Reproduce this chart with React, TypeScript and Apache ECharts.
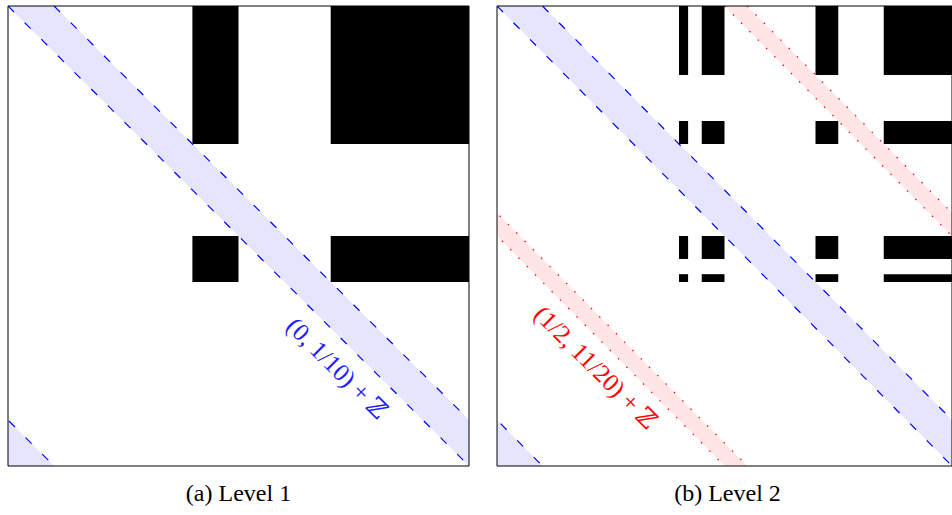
import React, { useEffect, useRef } from 'react';
import * as echarts from 'echarts';

// ---------- data ----------
const panelTitles = ['(a) Level 1', '(b) Level 2'];

// black set = product of x intervals and y intervals (y measured from the top)
const level1X = [[0.4, 0.5], [0.7, 1.0]];
const level1Y = [[0.0, 0.3], [0.5, 0.6]];
const level2X = [[0.4, 0.42], [0.45, 0.5], [0.7, 0.75], [0.85, 1.0]];
const level2Y = [[0.0, 0.15], [0.25, 0.3], [0.5, 0.55], [0.583, 0.6]];

// bands: { (x, y) : x - y in (a, b) + Z }
const bandsLevel1 = [[0, 0.1]];
const bandsLevel2 = [[0, 0.1], [0.5, 0.55]];
const bandLabels1 = ['(0, 1/10) + ℤ'];
const bandLabels2 = ['(0, 1/10) + ℤ', '(1/2, 11/20) + ℤ'];
// label anchors in unit coords (u, v), only shown where set
const labelAnchors1 = [[0.714, 0.787]];
const labelAnchors2 = [null, [0.217, 0.785]];

// ---------- styles / layout ----------
const BAND_STYLES = [
  { fill: '#e5e5fd', stroke: '#0000ff', dash: [8.5, 15], width: 1.2, text: '#2020ff' },
  { fill: '#ffe5e5', stroke: '#ff0000', dash: [1.5, 10.3], width: 1.2, text: '#ff0000' },
];
const GRID_TOP = 6;
const GRID_SIZE_W = 461;
const GRID_SIZE_H = 460;
const GRID_LEFTS = [8, 497];
const FONT = '"Liberation Serif", "DejaVu Serif", serif';

function cells(xs: number[][], ys: number[][]) {
  const out: number[][] = [];
  for (const x of xs) for (const y of ys) out.push([x[0], x[1], y[0], y[1]]);
  return out;
}

export default function App() {
  const ref = useRef<HTMLDivElement>(null);
  useEffect(() => {
    if (!ref.current) return;
    const chart = echarts.init(ref.current, null, { renderer: 'svg' });

    const panels = [
      { rects: cells(level1X, level1Y), bands: bandsLevel1, labels: bandLabels1, anchors: labelAnchors1 },
      { rects: cells(level2X, level2Y), bands: bandsLevel2, labels: bandLabels2, anchors: labelAnchors2 },
    ];

    const series: any[] = [];
    panels.forEach((p, gi) => {
      // bands
      series.push({
        type: 'custom',
        xAxisIndex: gi,
        yAxisIndex: gi,
        clip: true,
        silent: true,
        z: 1,
        data: p.bands.map((b, i) => [b[0], b[1], i]),
        renderItem: (params: any, api: any) => {
          const a = api.value(0);
          const b = api.value(1);
          const s = BAND_STYLES[api.value(2)];
          const children: any[] = [];
          for (const k of [-1, 0]) {
            const pts = [[a + k, 0], [b + k, 0], [b + k + 1, 1], [a + k + 1, 1]].map((q) => api.coord(q));
            children.push({ type: 'polygon', shape: { points: pts }, style: { fill: s.fill } });
          }
          for (const k of [-1, 0]) {
            for (const c of [a, b]) {
              const p0 = api.coord([c + k, 0]);
              const p1 = api.coord([c + k + 1, 1]);
              children.push({
                type: 'line',
                shape: { x1: p0[0], y1: p0[1], x2: p1[0], y2: p1[1] },
                style: { stroke: s.stroke, lineWidth: s.width, lineDash: s.dash, fill: null },
              });
            }
          }
          return { type: 'group', children };
        },
      });
      // black rectangles
      series.push({
        type: 'custom',
        xAxisIndex: gi,
        yAxisIndex: gi,
        clip: true,
        silent: true,
        z: 2,
        data: p.rects,
        renderItem: (params: any, api: any) => {
          const p0 = api.coord([api.value(0), api.value(2)]);
          const p1 = api.coord([api.value(1), api.value(3)]);
          return {
            type: 'rect',
            shape: {
              x: Math.min(p0[0], p1[0]),
              y: Math.min(p0[1], p1[1]),
              width: Math.abs(p1[0] - p0[0]),
              height: Math.abs(p1[1] - p0[1]),
            },
            style: { fill: '#000000' },
          };
        },
      });
      // band labels
      const labelData: any[] = [];
      p.anchors.forEach((an, i) => {
        if (an) labelData.push([an[0], an[1], i]);
      });
      series.push({
        type: 'custom',
        xAxisIndex: gi,
        yAxisIndex: gi,
        clip: false,
        silent: true,
        z: 3,
        data: labelData,
        renderItem: (params: any, api: any) => {
          const c = api.coord([api.value(0), api.value(1)]);
          const idx = api.value(2);
          return {
            type: 'text',
            x: c[0],
            y: c[1],
            rotation: -Math.PI / 4,
            style: {
              text: p.labels[idx],
              x: 0,
              y: 0,
              fill: BAND_STYLES[idx].text,
              fontSize: 25,
              fontFamily: FONT,
              align: 'center',
              verticalAlign: 'middle',
              textAlign: 'center',
              textVerticalAlign: 'middle',
            },
          };
        },
      });
      // frame
      series.push({
        type: 'custom',
        xAxisIndex: gi,
        yAxisIndex: gi,
        clip: false,
        silent: true,
        z: 5,
        data: [[0, 0, 1, 1]],
        renderItem: (params: any, api: any) => {
          const p0 = api.coord([api.value(0), api.value(1)]);
          const p1 = api.coord([api.value(2), api.value(3)]);
          return {
            type: 'rect',
            shape: { x: p0[0], y: p0[1], width: p1[0] - p0[0], height: p1[1] - p0[1] },
            style: { fill: null, stroke: '#000000', lineWidth: 1 },
          };
        },
      });
    });

    chart.setOption({
      animation: false,
      backgroundColor: '#ffffff',
      grid: GRID_LEFTS.map((l) => ({ left: l, top: GRID_TOP, width: GRID_SIZE_W, height: GRID_SIZE_H, containLabel: false })),
      xAxis: GRID_LEFTS.map((_, i) => ({ type: 'value', min: 0, max: 1, gridIndex: i, show: false })),
      yAxis: GRID_LEFTS.map((_, i) => ({ type: 'value', min: 0, max: 1, inverse: true, gridIndex: i, show: false })),
      graphic: panelTitles.map((t, i) => ({
        type: 'text',
        x: GRID_LEFTS[i] + GRID_SIZE_W / 2,
        y: 493,
        style: {
          text: t,
          fill: '#000000',
          fontSize: 24,
          fontFamily: FONT,
          textAlign: 'center',
          textVerticalAlign: 'middle',
        },
      })),
      series,
    });

    return () => chart.dispose();
  }, []);

  return <div ref={ref} style={{ position: 'absolute', left: 0, top: 0, width: 952, height: 515 }} />;
}
